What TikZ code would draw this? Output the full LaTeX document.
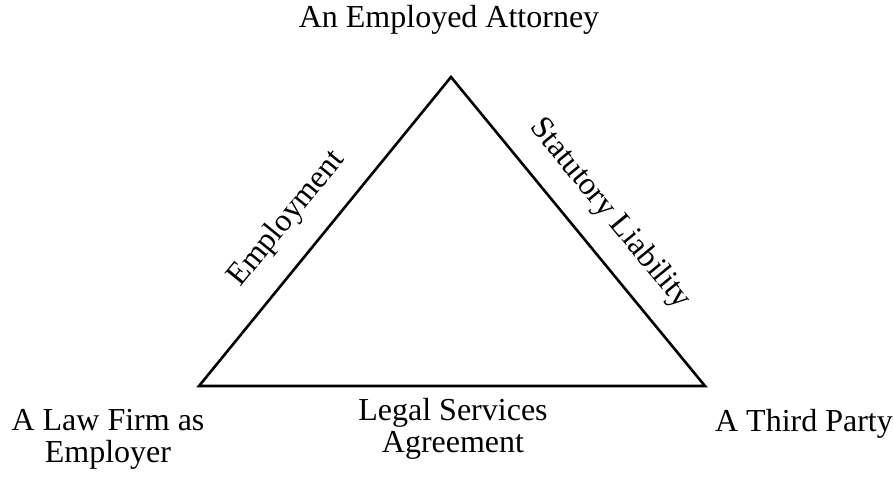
\documentclass[tikz,border=0pt]{standalone}
\usepackage{fontspec}
\setmainfont{Liberation Serif}
\usetikzlibrary{positioning,calc}

\begin{document}
\begin{tikzpicture}[x=1pt,y=-1pt,
    lbl/.style={font=\fontsize{32}{32}\selectfont,inner sep=0pt,align=center},
    side/.style={line width=2.6pt,line join=miter}]
  \useasboundingbox (0,0) rectangle (894,503);
  % 三角形の頂点
  \coordinate (top) at (451,77);
  \coordinate (left) at (199,386);
  \coordinate (right) at (705,386);
  \draw[side] (top) -- (right) -- (left) -- cycle;
  % 三者(頂点のラベル)
  \node[lbl] (attorney) at (449,20) {An Employed Attorney};
  \node[lbl] (firm) at (108,439) {A Law Firm as\\Employer};
  \node[lbl] (third) at (804,424) {A Third Party};
  % 辺のラベル(関係)
  \node[lbl,rotate=50.8] (employment) at (287,219) {Employment};
  \node[lbl,rotate=-50.6] (liability) at (610,214) {Statutory Liability};
  \node[lbl] (agreement) at (453,429) {Legal Services\\Agreement};
\end{tikzpicture}
\end{document}
